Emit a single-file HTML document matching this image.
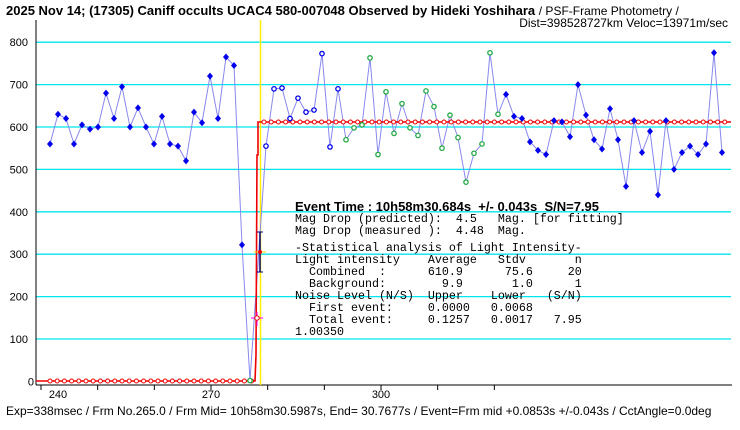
<!DOCTYPE html>
<html><head><meta charset="utf-8"><style>
body{margin:0;background:#fff;width:740px;height:425px;overflow:hidden}
svg text{font-family:"Liberation Sans",sans-serif}
svg .m text{font-family:"Liberation Mono",monospace;font-size:11.67px;white-space:pre}
svg text.ev{white-space:pre}
</style></head><body>
<svg id="s" width="740" height="425" xmlns="http://www.w3.org/2000/svg">
<text x="6" y="15" font-size="13" font-weight="bold">2025 Nov 14; (17305) Caniff occults UCAC4 580-007048 Observed by Hideki Yoshihara <tspan font-weight="normal" font-size="12">/ PSF-Frame Photometry /</tspan></text>
<text x="728" y="27" font-size="12" text-anchor="end">Dist=398528727km Veloc=13971m/sec</text>
<g id="grid" stroke="#00e5ee" stroke-width="1.3"></g>
<line x1="36" y1="20" x2="36" y2="385" stroke="#000"/>
<line x1="36" y1="385" x2="732" y2="385" stroke="#000"/>
<g id="ax" font-size="11"></g>
<line x1="260.5" y1="20" x2="260.5" y2="385" stroke="#ffee00" stroke-width="1.5"/>
<polyline id="pl" fill="none" stroke="#8888ee" stroke-width="1"/>
<polyline points="36,381 255,381 256,355 257,155 258,155 258,122 263,122 731,122" fill="none" stroke="#e00" stroke-width="1.6"/>
<g id="rc" fill="#fff" stroke="#e00" stroke-width="1"></g>
<g id="pts"></g>
<line x1="260" y1="232" x2="260" y2="272" stroke="#000080" stroke-width="1.5"/>
<line x1="257" y1="232" x2="263" y2="232" stroke="#000080"/>
<line x1="257" y1="272" x2="263" y2="272" stroke="#000080"/>
<line x1="254" y1="252" x2="266" y2="252" stroke="#ffd700"/>
<line x1="251" y1="318" x2="263" y2="318" stroke="#ff00ff"/>
<line x1="257" y1="312" x2="257" y2="326" stroke="#ff00ff"/>
<circle cx="257" cy="318" r="2.2" fill="#fff" stroke="#e00"/>
<circle cx="260" cy="252" r="2" fill="#e00"/>
<text class="ev" x="295" y="211" font-size="13" font-weight="bold">Event Time : 10h58m30.684s  +/- 0.043s  S/N=7.95</text>
<g class="m">
<text x="295" y="222">Mag Drop (predicted):  4.5   Mag. [for fitting]</text>
<text x="295" y="234">Mag Drop (measured ):  4.48  Mag.</text>
<text x="295" y="251">-Statistical analysis of Light Intensity-</text>
<text x="295" y="263">Light intensity    Average   Stdv       n</text>
<text x="295" y="275">  Combined  :      610.9      75.6     20</text>
<text x="295" y="287">  Background:        9.9       1.0      1</text>
<text x="295" y="299">Noise Level (N/S)  Upper    Lower   (S/N)</text>
<text x="295" y="311">  First event:     0.0000   0.0068</text>
<text x="295" y="323">  Total event:     0.1257   0.0017   7.95</text>
<text x="295" y="335">1.00350</text>
</g>
<text x="6" y="415" font-size="12">Exp=338msec / Frm No.265.0 / Frm Mid= 10h58m30.5987s,  End= 30.7677s / Event=Frm mid +0.0853s +/-0.043s / CctAngle=0.0deg</text>
</svg>
<script>
var NS="http://www.w3.org/2000/svg";
function el(p,t,a){var e=document.createElementNS(NS,t);for(var k in a)e.setAttribute(k,a[k]);document.getElementById(p).appendChild(e);return e;}
function Y(v){return 381.4-v*0.424;}
for(var v=100;v<=800;v+=100)el("grid","line",{x1:36,x2:731,y1:Y(v),y2:Y(v)});
for(var v=0;v<=800;v+=100){var t=el("ax","text",{x:v?28:34,y:Y(v)+4,"text-anchor":"end"});t.textContent=v;}
for(var f=240;f<=320;f+=10){var x=211+(f-270)*5.667;el("ax","line",{x1:x,x2:x,y1:385,y2:390,stroke:"#000"});}
[[240,58],[270,211],[300,381]].forEach(function(a){var t=el("ax","text",{x:a[1],y:398,"text-anchor":"middle"});t.textContent=a[0];});
for(var x=50;x<=255;x+=7.2)el("rc","circle",{cx:x,cy:381,r:2});
for(var x=264;x<=730;x+=7.2)el("rc","circle",{cx:x,cy:122,r:2});
var d=[[50,560],[58,630],[66,620],[74,560],[82,605],[90,595],[98,600],[106,680],[114,620],[122,695],[130,600],[138,645],[146,600],[154,560],[162,625],[170,560],[178,555],[186,520],[194,635],[202,610],[210,720],[218,620],[226,765],[234,745],[242,322],[250,2,'g'],[266,555,'o'],[274,690,'o'],[282,692,'o'],[290,620,'o'],[298,668,'o'],[306,635,'o'],[314,640,'o'],[322,773,'o'],[330,553,'o'],[338,690,'o'],[346,570,'g'],[354,598,'g'],[362,605,'g'],[370,763,'g'],[378,535,'g'],[386,683,'g'],[394,585,'g'],[402,655,'g'],[410,598,'g'],[418,580,'g'],[426,685,'g'],[434,648,'g'],[442,550,'g'],[450,628,'g'],[458,575,'g'],[466,470,'g'],[474,538,'g'],[482,560,'g'],[490,775,'g'],[498,630,'g'],[506,677],[514,625],[522,620],[530,565],[538,545],[546,535],[554,615],[562,612],[570,577],[578,700],[586,628],[594,570],[602,548],[610,643],[618,570],[626,460],[634,615],[642,540],[650,590],[658,440],[666,615],[674,500],[682,540],[690,555],[698,535],[706,560],[714,775],[722,540]];
document.getElementById("pl").setAttribute("points",d.map(function(p){return p[0]+","+Y(p[1]);}).join(" "));
d.forEach(function(p){var x=p[0],y=Y(p[1]);
if(p[2]=='g')el("pts","circle",{cx:x,cy:y,r:2.2,fill:"#fff",stroke:"#22aa44","stroke-width":1.3});
else if(p[2]=='o')el("pts","circle",{cx:x,cy:y,r:2.2,fill:"#fff",stroke:"#0000ee","stroke-width":1.3});
else el("pts","polygon",{points:[x,y-3.5,x+3,y,x,y+3.5,x-3,y].join(","),fill:"#0000ee"});});
</script>
</body></html>
